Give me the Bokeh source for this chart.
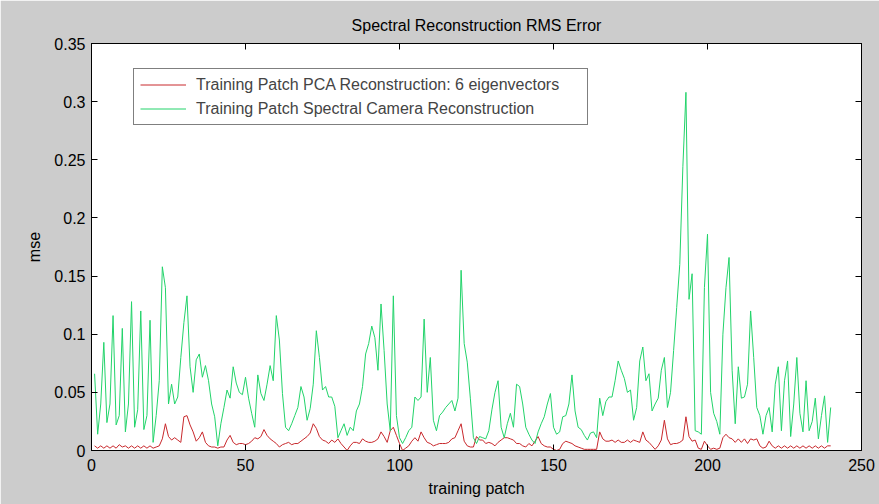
from bokeh.plotting import figure
from bokeh.models import Range1d, FixedTicker, LinearAxis, Legend, LegendItem
from bokeh.embed import file_html
from bokeh.resources import INLINE

# training patch index (1..240)
patch = list(range(1, 241))

# RMS error of the PCA reconstruction (6 eigenvectors)
pca_rms = [
    0.004, 0.002, 0.004, 0.002, 0.004, 0.002, 0.004, 0.002, 0.005, 0.003,
    0.004, 0.002, 0.004, 0.002, 0.004, 0.002, 0.004, 0.002, 0.004, 0.002,
    0.003, 0.004, 0.010, 0.023, 0.012, 0.009, 0.011, 0.009, 0.007, 0.029,
    0.030, 0.022, 0.016, 0.008, 0.011, 0.016, 0.007, 0.004, 0.003, 0.003,
    0.002, 0.003, 0.003, 0.009, 0.013, 0.007, 0.005, 0.006, 0.006, 0.005,
    0.006, 0.008, 0.011, 0.010, 0.012, 0.018, 0.013, 0.010, 0.008, 0.006,
    0.003, 0.005, 0.006, 0.007, 0.005, 0.006, 0.006, 0.008, 0.010, 0.012,
    0.015, 0.023, 0.019, 0.012, 0.009, 0.008, 0.006, 0.009, 0.007, 0.010,
    0.006, 0.003, 0.000, 0.004, 0.007, 0.007, 0.006, 0.010, 0.008, 0.007,
    0.007, 0.008, 0.010, 0.016, 0.012, 0.007, 0.017, 0.020, 0.013, 0.006,
    0.000, 0.002, 0.004, 0.008, 0.011, 0.008, 0.016, 0.011, 0.007, 0.006,
    0.004, 0.005, 0.006, 0.006, 0.006, 0.007, 0.010, 0.011, 0.017, 0.023,
    0.008, 0.004, 0.003, 0.003, 0.012, 0.009, 0.009, 0.006, 0.007, 0.006,
    0.004, 0.007, 0.009, 0.011, 0.011, 0.010, 0.009, 0.006, 0.006, 0.004,
    0.003, 0.006, 0.004, 0.008, 0.012, 0.006, 0.004, 0.003, 0.003, 0.001,
    0.000, 0.001, 0.006, 0.008, 0.007, 0.006, 0.004, 0.003, 0.002, 0.001,
    0.001, 0.001, 0.001, 0.001, 0.016, 0.010, 0.008, 0.008, 0.009, 0.007,
    0.009, 0.007, 0.007, 0.009, 0.007, 0.009, 0.008, 0.007, 0.016, 0.009,
    0.007, 0.004, 0.001, 0.004, 0.009, 0.026, 0.010, 0.005, 0.006, 0.006,
    0.007, 0.009, 0.029, 0.012, 0.008, 0.009, 0.002, 0.001, 0.008, 0.004,
    0.001, 0.002, 0.001, 0.002, 0.011, 0.014, 0.011, 0.010, 0.007, 0.010,
    0.007, 0.010, 0.006, 0.010, 0.009, 0.010, 0.004, 0.002, 0.003, 0.008,
    0.004, 0.002, 0.004, 0.002, 0.004, 0.002, 0.004, 0.002, 0.004, 0.002,
    0.004, 0.002, 0.004, 0.002, 0.004, 0.002, 0.004, 0.002, 0.004, 0.004,
]

# RMS error of the spectral camera reconstruction
camera_rms = [
    0.066, 0.014, 0.040, 0.093, 0.024, 0.040, 0.116, 0.022, 0.030, 0.105,
    0.016, 0.040, 0.128, 0.020, 0.035, 0.120, 0.018, 0.030, 0.112, 0.007,
    0.030, 0.060, 0.158, 0.140, 0.040, 0.057, 0.040, 0.046, 0.080, 0.110,
    0.133, 0.072, 0.050, 0.078, 0.083, 0.063, 0.073, 0.060, 0.040, 0.029,
    0.004, 0.023, 0.037, 0.052, 0.045, 0.072, 0.058, 0.050, 0.048, 0.063,
    0.045, 0.032, 0.020, 0.065, 0.049, 0.043, 0.057, 0.073, 0.060, 0.116,
    0.095, 0.049, 0.020, 0.017, 0.023, 0.030, 0.037, 0.055, 0.046, 0.026,
    0.036, 0.057, 0.103, 0.080, 0.052, 0.055, 0.046, 0.046, 0.038, 0.011,
    0.017, 0.023, 0.013, 0.020, 0.017, 0.034, 0.040, 0.055, 0.083, 0.092,
    0.107, 0.097, 0.069, 0.126, 0.086, 0.040, 0.017, 0.133, 0.030, 0.011,
    0.006, 0.011, 0.017, 0.020, 0.046, 0.043, 0.046, 0.113, 0.050, 0.080,
    0.026, 0.017, 0.030, 0.033, 0.037, 0.040, 0.043, 0.034, 0.045, 0.155,
    0.092, 0.076, 0.045, 0.011, 0.006, 0.012, 0.011, 0.010, 0.017, 0.035,
    0.050, 0.060, 0.020, 0.011, 0.023, 0.032, 0.020, 0.057, 0.055, 0.040,
    0.020, 0.014, 0.009, 0.006, 0.016, 0.023, 0.029, 0.040, 0.049, 0.020,
    0.014, 0.016, 0.029, 0.030, 0.040, 0.065, 0.034, 0.020, 0.018, 0.013,
    0.009, 0.015, 0.016, 0.011, 0.045, 0.030, 0.042, 0.046, 0.046, 0.060,
    0.077, 0.069, 0.062, 0.050, 0.052, 0.026, 0.037, 0.077, 0.089, 0.060,
    0.066, 0.034, 0.040, 0.045, 0.069, 0.080, 0.037, 0.050, 0.086, 0.123,
    0.160, 0.244, 0.308, 0.130, 0.152, 0.017, 0.016, 0.014, 0.140, 0.186,
    0.050, 0.032, 0.025, 0.014, 0.100, 0.140, 0.166, 0.069, 0.023, 0.072,
    0.045, 0.046, 0.057, 0.120, 0.080, 0.037, 0.030, 0.014, 0.030, 0.037,
    0.016, 0.057, 0.072, 0.017, 0.060, 0.077, 0.012, 0.040, 0.080, 0.032,
    0.016, 0.060, 0.017, 0.025, 0.045, 0.010, 0.030, 0.047, 0.007, 0.037,
]

x_ticks = [0, 50, 100, 150, 200, 250]
y_ticks = [0, 0.05, 0.1, 0.15, 0.2, 0.25, 0.3, 0.35]
y_tick_labels = ["0", "0.05", "0.1", "0.15", "0.2", "0.25", "0.3", "0.35"]

FONT = "Liberation Sans"
FS = "16px"
BG = "#cccccc"

p = figure(
    width=879, height=504,
    x_range=Range1d(0, 250), y_range=Range1d(0, 0.35),
    output_backend="svg", toolbar_location=None,
    min_border_left=91, min_border_right=18,
    min_border_top=43, min_border_bottom=54,
    background_fill_color="white", border_fill_color=BG,
)
p.outline_line_color = "black"
p.grid.grid_line_color = None

p.title.text = "Spectral Reconstruction RMS Error"
p.title.align = "center"
p.title.text_font = FONT
p.title.text_font_size = FS
p.title.text_font_style = "normal"
p.title.text_color = "black"
p.title.standoff = 19

def style_axis(ax):
    ax.major_tick_in = 6
    ax.major_tick_out = 0
    ax.minor_tick_line_color = None
    ax.axis_line_color = "black"
    ax.major_tick_line_color = "black"
    ax.major_label_text_font = FONT
    ax.major_label_text_font_size = FS
    ax.major_label_text_color = "black"
    ax.axis_label_text_font = FONT
    ax.axis_label_text_font_size = FS
    ax.axis_label_text_font_style = "normal"
    ax.axis_label_text_color = "black"

xa = p.xaxis[0]
xa.ticker = FixedTicker(ticks=x_ticks)
xa.axis_label = "training patch"
xa.major_label_standoff = 8
xa.axis_label_standoff = 6
style_axis(xa)

ya = p.yaxis[0]
ya.ticker = FixedTicker(ticks=y_ticks)
ya.major_label_overrides = {t: s for t, s in zip(y_ticks, y_tick_labels)}
ya.axis_label = "mse"
ya.major_label_standoff = 6
ya.axis_label_standoff = 8
style_axis(ya)

# mirrored tick marks on the top and right edges, without labels
top = LinearAxis(ticker=FixedTicker(ticks=x_ticks))
style_axis(top)
top.major_label_overrides = {t: "" for t in x_ticks}
top.major_label_standoff = 0
p.add_layout(top, "above")

right = LinearAxis(ticker=FixedTicker(ticks=y_ticks))
style_axis(right)
right.major_label_overrides = {t: "" for t in y_ticks}
right.major_label_standoff = 0
p.add_layout(right, "right")

r_pca = p.line(patch, pca_rms, line_color="#c8282c", line_width=1)
r_cam = p.line(patch, camera_rms, line_color="#22d36a", line_width=1)

legend = Legend(
    items=[
        LegendItem(label="Training Patch PCA Reconstruction: 6 eigenvectors", renderers=[r_pca]),
        LegendItem(label="Training Patch Spectral Camera Reconstruction", renderers=[r_cam]),
    ],
    location=(42, 325),
    border_line_color="black", border_line_width=1,
    background_fill_color="white", background_fill_alpha=1,
    label_text_font=FONT, label_text_font_size=FS,
    glyph_width=46, glyph_height=19, label_height=19, label_width=385,
    spacing=5, padding=6, margin=0, label_standoff=10,
)
p.add_layout(legend)

open("out.html", "w").write(file_html(p, INLINE))
